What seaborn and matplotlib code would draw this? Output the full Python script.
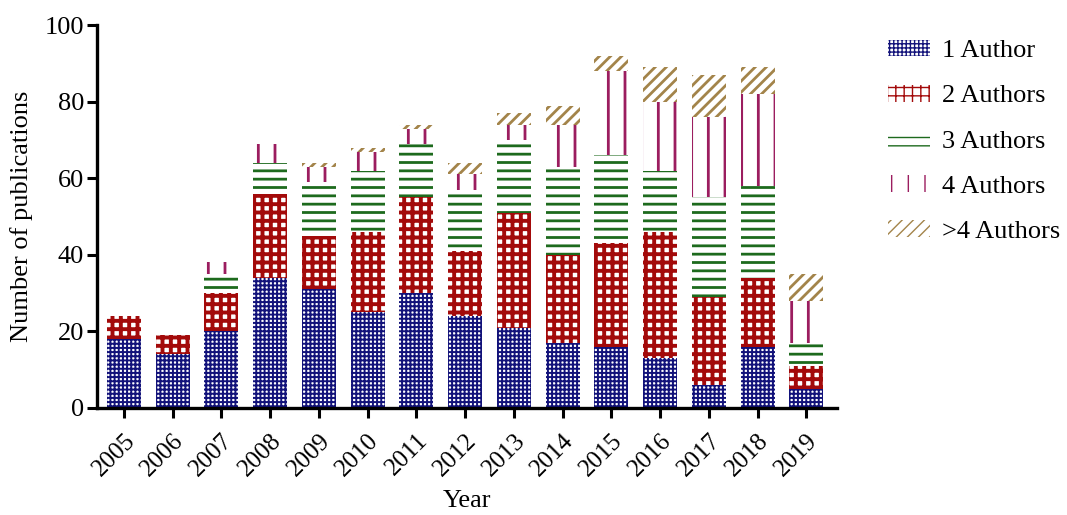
import numpy as np
import pandas as pd
import seaborn as sns
import matplotlib.pyplot as plt
from matplotlib.patches import Patch

# values
years = [str(y) for y in range(2005, 2020)]
one_author = [18, 14, 20, 34, 31, 25, 30, 24, 21, 17, 16, 13, 6, 16, 5]
two_authors = [6, 5, 10, 22, 14, 21, 25, 17, 30, 23, 27, 33, 23, 18, 6]
three_authors = [0, 1, 5, 8, 14, 16, 14, 16, 19, 23, 23, 16, 26, 24, 6]
four_authors = [0, 0, 3, 5, 4, 5, 4, 4, 4, 11, 22, 18, 21, 24, 11]
more_authors = [0, 0, 0, 0, 1, 1, 1, 3, 3, 5, 4, 9, 11, 7, 7]

series = ["1 Author", "2 Authors", "3 Authors", "4 Authors", ">4 Authors"]
values = [one_author, two_authors, three_authors, four_authors, more_authors]
colors = ["#12127a", "#a30a0a", "#1d6a1d", "#9b1d5f", "#a3844a"]
hatches = ["++++", "++", "--", "|", "///"]
hatch_lw = [1.4, 2.8, 2.0, 2.0, 2.0]

sns.set_style("ticks")
plt.rcParams["font.family"] = ["Liberation Serif", "DejaVu Serif"]
plt.rcParams["text.color"] = "black"
plt.rcParams["axes.labelcolor"] = "black"
plt.rcParams["xtick.color"] = "black"
plt.rcParams["ytick.color"] = "black"

fig = plt.figure(figsize=(10.67, 5.15), dpi=100)
ax = fig.add_axes([0.091, 0.208, 0.693, 0.743])

bottom = np.zeros(len(years))
handles = []
for name, vals, c, h, lw in zip(series, values, colors, hatches, hatch_lw):
    df = pd.DataFrame({"year": years, "count": vals})
    sns.barplot(data=df, x="year", y="count", bottom=bottom, color="white",
                edgecolor=c, linewidth=0, hatch=h, width=0.7, ax=ax)
    for p in ax.containers[-1]:
        p.set_hatch_linewidth(lw)
    bottom = bottom + np.array(vals)
    hp = Patch(facecolor="white", edgecolor=c, hatch=h, linewidth=0, label=name)
    hp.set_hatch_linewidth(lw)
    handles.append(hp)

ax.set_ylim(0, 100)
ax.set_xlim(-0.55, 14.62)
ax.set_yticks([0, 20, 40, 60, 80, 100])
ax.set_xlabel("Year", fontsize=19, labelpad=7)
ax.set_ylabel("Number of publications", fontsize=19, labelpad=8)
ax.tick_params(axis="both", labelsize=19, width=2.2, length=7.5, color="black", pad=2)
ax.tick_params(axis="x", labelsize=18, pad=8)
plt.setp(ax.get_xticklabels(), rotation=45, ha="right", rotation_mode="anchor")
for s in ["left", "bottom"]:
    ax.spines[s].set_linewidth(2.4)
    ax.spines[s].set_color("black")
sns.despine(ax=ax)

fig.legend(handles=handles, loc="upper left", bbox_to_anchor=(0.832, 0.923),
           frameon=False, fontsize=19, handlelength=1.6, handleheight=0.6,
           labelspacing=0.85, handletextpad=0.45, borderpad=0, borderaxespad=0)

plt.savefig("out.png", dpi=100)
